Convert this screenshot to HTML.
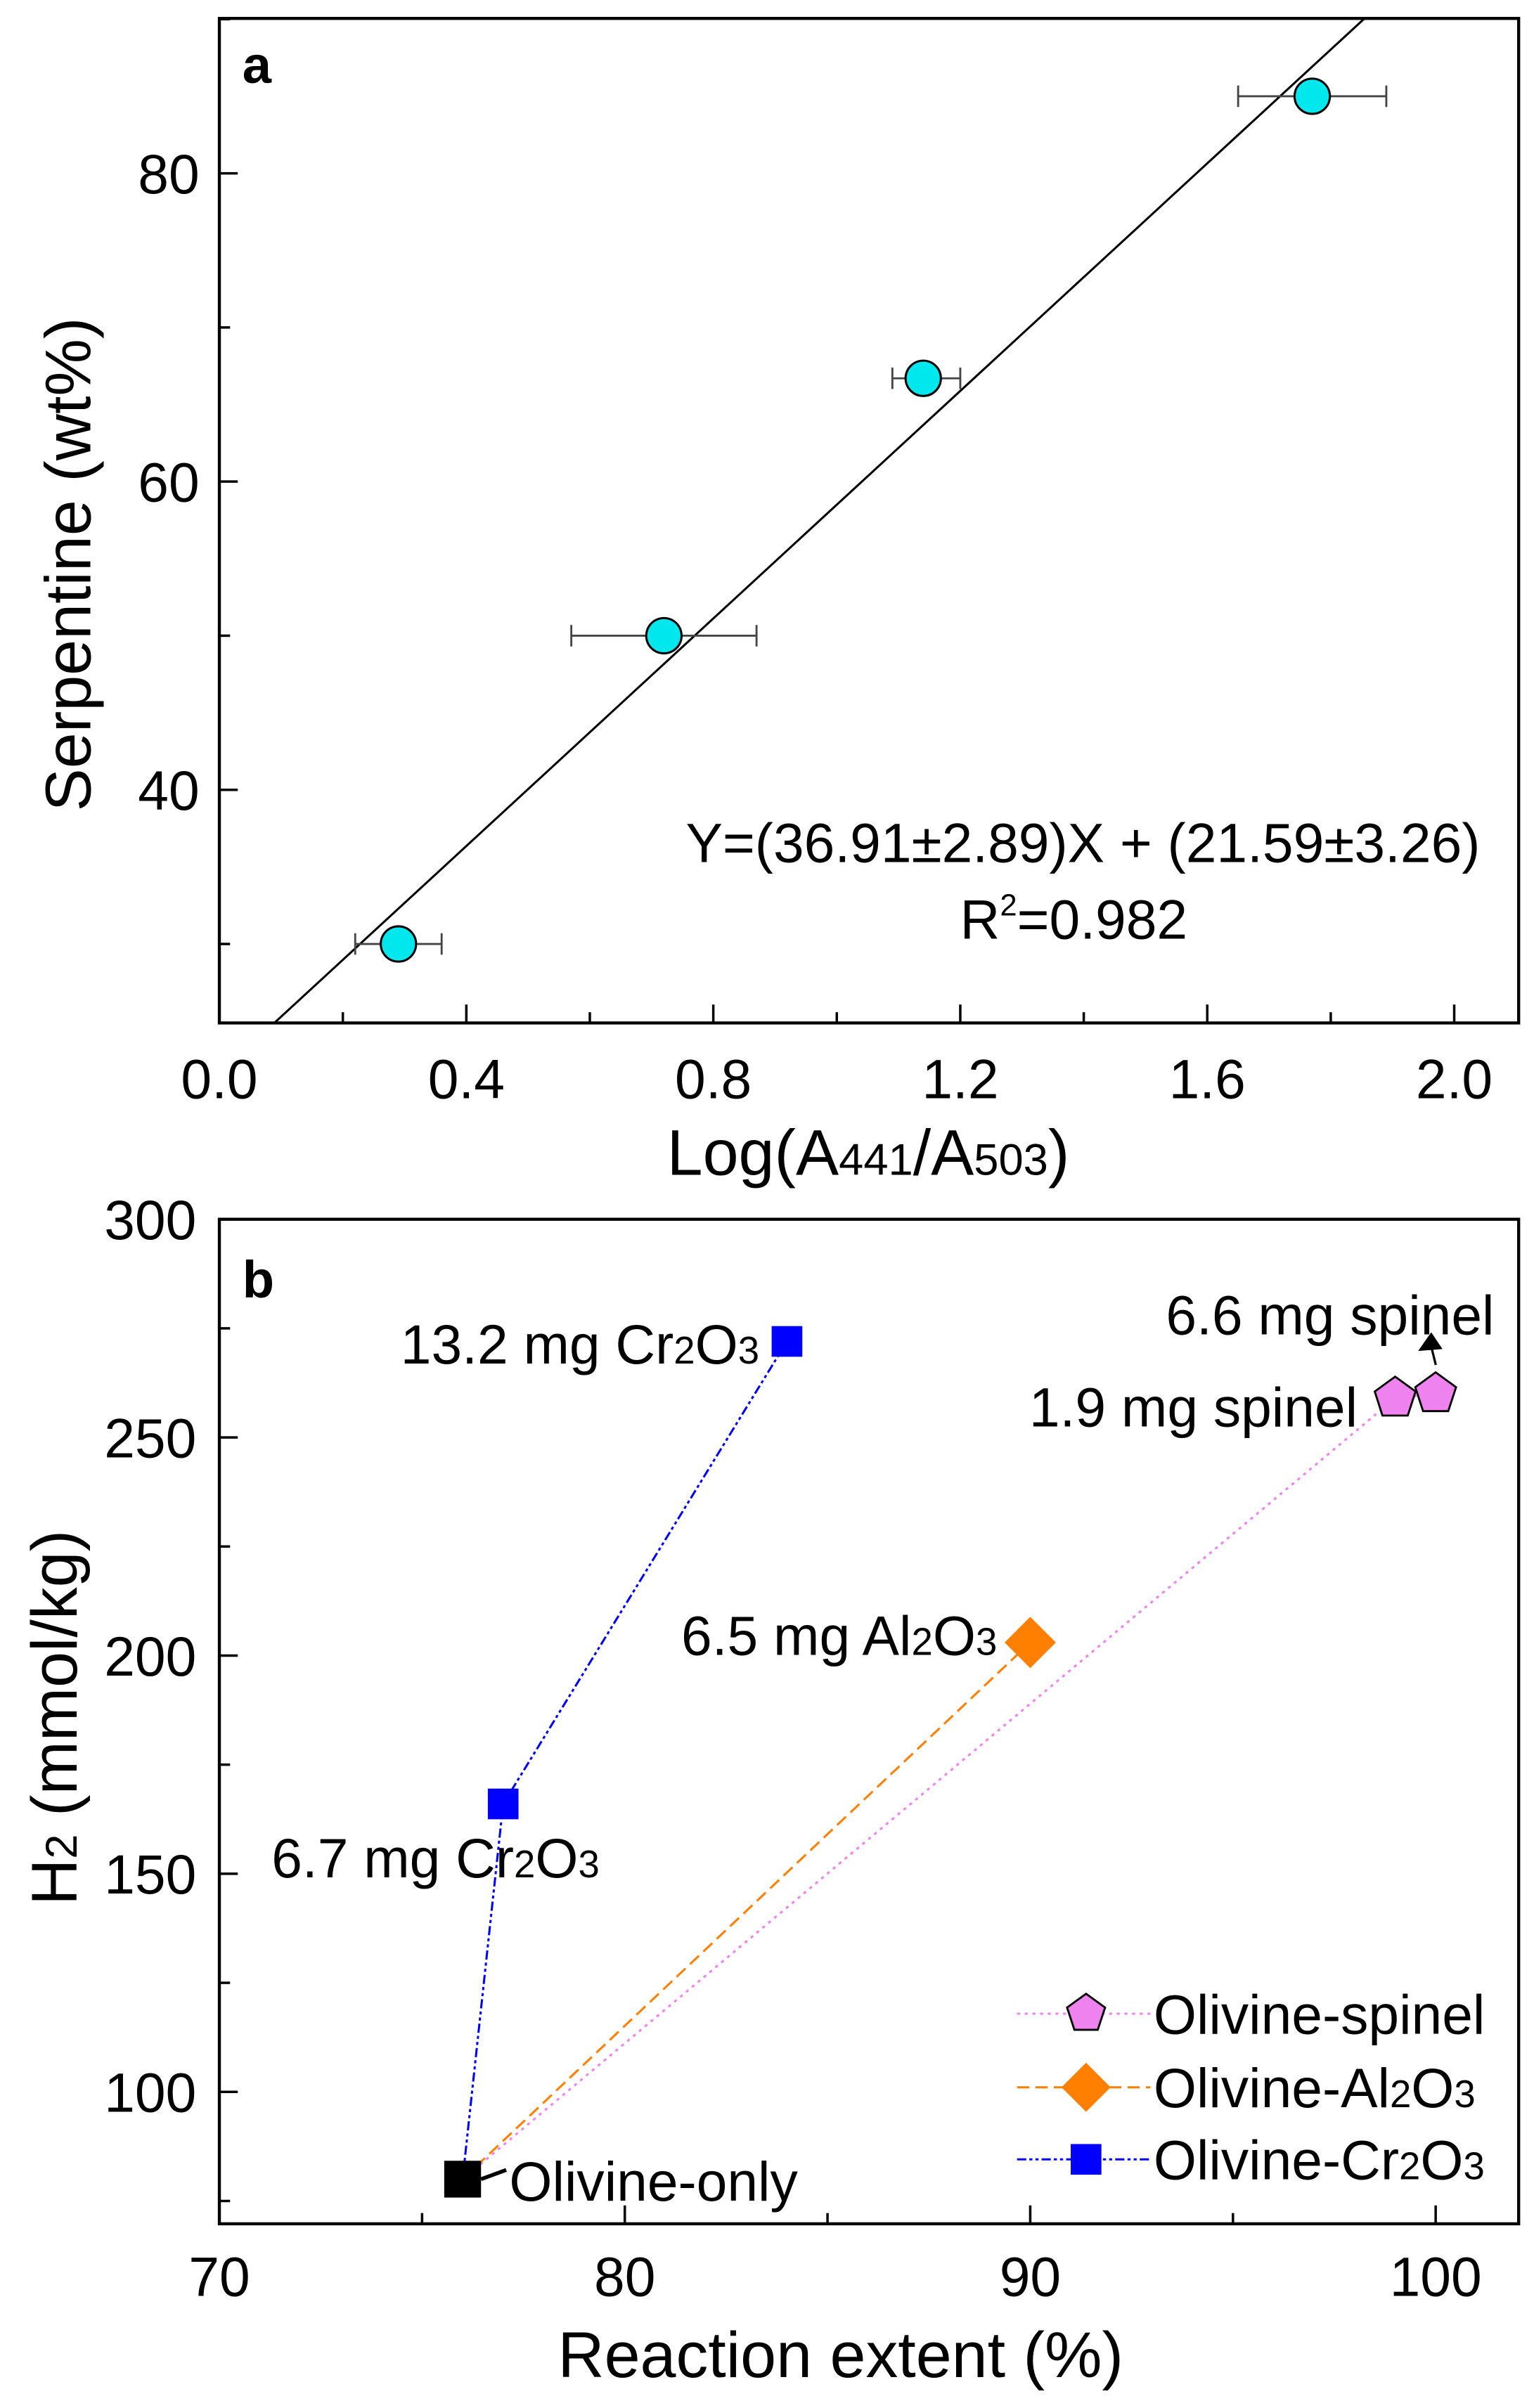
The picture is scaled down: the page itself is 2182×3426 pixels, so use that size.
<!DOCTYPE html>
<html><head><meta charset="utf-8"><style>
html,body{margin:0;padding:0;background:#fff}
svg{display:block;font-family:"Liberation Sans",Arial,sans-serif}
</style></head><body>
<svg id="fig" width="2182" height="3426" viewBox="0 0 1000 1570.1" xmlns="http://www.w3.org/2000/svg"></svg>
<script>
// Panel a data
const aX = [0.29, 0.72, 1.14, 1.77];
const aY = [30, 50, 66.7, 85];
const aErrLo = [0.22, 0.57, 1.09, 1.65];
const aErrHi = [0.36, 0.87, 1.20, 1.89];
const aSlope = 36.91, aIntercept = 21.59;
const aXTicks = [0.0, 0.4, 0.8, 1.2, 1.6, 2.0];
const aXTickLabels = ["0.0","0.4","0.8","1.2","1.6","2.0"];
const aYTicks = [40, 60, 80];
const aYTickLabels = ["40","60","80"];
// Panel b data
const bOnlyX = [76], bOnlyY = [80];
const bCrX = [76, 77, 84], bCrY = [80, 166, 272];
const bAlX = [76, 90], bAlY = [80, 203];
const bSpX = [76, 99, 100], bSpY = [80, 259, 260];
const bXTicks = [70, 80, 90, 100];
const bXTickLabels = ["70","80","90","100"];
const bYTicks = [100, 150, 200, 250, 300];
const bYTickLabels = ["100","150","200","250","300"];

const NS = "http://www.w3.org/2000/svg";
const svg = document.getElementById('fig');
function mk(tag, attrs, parent){const e=document.createElementNS(NS,tag);for(const k in attrs)e.setAttribute(k,attrs[k]);(parent||svg).appendChild(e);return e;}

// ---------- Panel a ----------
const A = {l:143,r:990,t:12,b:667};
const ax = v => 143 + v*402.5;
const ay = v => 113 + (80 - v)*(201/20);
const ga = mk('g',{});


const clipA = mk('clipPath',{id:'ca'},ga); mk('rect',{x:A.l,y:A.t,width:A.r-A.l,height:A.b-A.t},clipA);
const x0 = (24.8 - aIntercept)/aSlope, x1 = (90.1 - aIntercept)/aSlope;
const fl = mk('line',{x1:ax(x0),y1:ay(aSlope*x0+aIntercept),x2:ax(x1),y2:ay(aSlope*x1+aIntercept),stroke:'#000','stroke-width':1.4,'clip-path':'url(#ca)'},ga);


for(let i=0;i<aX.length;i++){
  const g = mk('g',{},ga);
  
  
  const y=ay(aY[i]);
  mk('line',{x1:ax(aErrLo[i]),x2:ax(aErrHi[i]),y1:y,y2:y,stroke:'#444','stroke-width':1.3},g);
  mk('line',{x1:ax(aErrLo[i]),x2:ax(aErrLo[i]),y1:y-7,y2:y+7,stroke:'#444','stroke-width':1.3},g);
  mk('line',{x1:ax(aErrHi[i]),x2:ax(aErrHi[i]),y1:y-7,y2:y+7,stroke:'#444','stroke-width':1.3},g);
  mk('circle',{cx:ax(aX[i]),cy:y,r:11.5,fill:'#00e8ee',stroke:'#000','stroke-width':1.4},g);
}
const fa = mk('rect',{x:A.l,y:A.t,width:A.r-A.l,height:A.b-A.t,fill:'none',stroke:'#000','stroke-width':2},ga);


for(let v=0.2; v<2.1; v+=0.2){
  const major = Math.abs((v/0.4)-Math.round(v/0.4))<1e-6;
  mk('line',{x1:ax(v),x2:ax(v),y1:A.b,y2:A.b-(major?12:7),stroke:'#000','stroke-width':1.6},ga);
}
for(let v=30; v<=90; v+=10){
  const major = v%20===0;
  mk('line',{x1:A.l,x2:A.l+(major?12:7),y1:ay(v),y2:ay(v),stroke:'#000','stroke-width':1.6},ga);
}
aXTicks.forEach((v,i)=>{const t=mk('text',{x:ax(v),y:716,'font-size':36,'text-anchor':'middle'},ga);t.textContent=aXTickLabels[i];

});
aYTicks.forEach((v,i)=>{const t=mk('text',{x:130,y:ay(v)+13,'font-size':36,'text-anchor':'end'},ga);t.textContent=aYTickLabels[i];

});
</script>
<script>
(function(){
const svg=document.getElementById('fig');
function addText(html, attrs, name){
  const t=document.createElementNS("http://www.w3.org/2000/svg",'text');
  for(const k in attrs)t.setAttribute(k,attrs[k]);
  t.innerHTML=html;
  
  
  svg.appendChild(t);return t;
}
addText('a',{x:158,y:54,'font-size':34,'font-weight':'bold'},'panel-label-a');
addText('Serpentine (wt%)',{x:0,y:0,'font-size':42,'text-anchor':'middle',transform:'translate(59,368) rotate(-90)'},'y-axis-title-a');
addText('Log(A<tspan font-size="29">441</tspan>/A<tspan font-size="29">503</tspan>)',{x:566,y:766,'font-size':42,'text-anchor':'middle'},'x-axis-title-a');
addText('Y=(36.91±2.89)X + (21.59±3.26)',{x:706,y:562,'font-size':36,'text-anchor':'middle'},'fit-equation');
addText('R<tspan font-size="20" dy="-15">2</tspan><tspan dy="15">=0.982</tspan>',{x:700,y:612,'font-size':36,'text-anchor':'middle'},'r-squared');
})();
</script>
<script>
// ---------- Panel b ----------
const B = {l:143,r:990,t:795,b:1450};
const bx = v => 143 + (v-70)*26.43;
const by = v => 795 + (300 - v)*(142.25/50);
const gb = document.createElementNS(NS,'g'); svg.appendChild(gb);


function path(xs, ys){return xs.map((x,i)=>(i?'L':'M')+bx(x)+' '+by(ys[i])).join(' ');}
const lnSp = mk('path',{d:path(bSpX,bSpY),fill:'none',stroke:'#ee82ee','stroke-width':1.4,'stroke-dasharray':'2 3'},gb);


const lnAl = mk('path',{d:path(bAlX,bAlY),fill:'none',stroke:'#ff8000','stroke-width':1.4,'stroke-dasharray':'8 4'},gb);


const lnCr = mk('path',{d:path(bCrX,bCrY),fill:'none',stroke:'#0000ff','stroke-width':1.4,'stroke-dasharray':'6 2 2 2 2 2'},gb);


function pent(cx,cy,r){let p=[];for(let k=0;k<5;k++){const a=-Math.PI/2+k*2*Math.PI/5;p.push((cx+r*Math.cos(a)).toFixed(1)+','+(cy+r*Math.sin(a)).toFixed(1));}return p.join(' ');}
for(let i=1;i<bSpX.length;i++){
  const m=mk('polygon',{points:pent(bx(bSpX[i]),by(bSpY[i]),14),fill:'#ee82ee',stroke:'#000','stroke-width':1.3},gb);
  
  
}
for(let i=1;i<bAlX.length;i++){
  const cx=bx(bAlX[i]),cy=by(bAlY[i]),r=16;
  const m=mk('polygon',{points:`${cx},${cy-r} ${cx+r},${cy} ${cx},${cy+r} ${cx-r},${cy}`,fill:'#ff8000',stroke:'#ff8000','stroke-width':1},gb);
  
  
}
for(let i=1;i<bCrX.length;i++){
  const m=mk('rect',{x:bx(bCrX[i])-10,y:by(bCrY[i])-10,width:20,height:20,fill:'#0000ff'},gb);
  
  
}
{
  const m=mk('rect',{x:bx(bOnlyX[0])-12,y:by(bOnlyY[0])-12,width:24,height:24,fill:'#000'},gb);
  
  
}
const fb = mk('rect',{x:B.l,y:B.t,width:B.r-B.l,height:B.b-B.t,fill:'none',stroke:'#000','stroke-width':2},gb);


for(let v=75; v<=100; v+=5){
  const major=v%10===0;
  mk('line',{x1:bx(v),x2:bx(v),y1:B.b,y2:B.b-(major?12:7),stroke:'#000','stroke-width':1.6},gb);
}
for(let v=75; v<300; v+=25){
  const major=v%50===0;
  mk('line',{x1:B.l,x2:B.l+(major?12:7),y1:by(v),y2:by(v),stroke:'#000','stroke-width':1.6},gb);
}
bXTicks.forEach((v,i)=>{const t=mk('text',{x:bx(v),y:1497,'font-size':36,'text-anchor':'middle'},gb);t.textContent=bXTickLabels[i];

});
bYTicks.forEach((v,i)=>{const t=mk('text',{x:128,y:by(v)+13,'font-size':36,'text-anchor':'end'},gb);t.textContent=bYTickLabels[i];

});
const ar1=mk('path',{d:`M${bx(76)+12} ${by(80)} L330 ${by(80)-6}`,stroke:'#000','stroke-width':2.5,fill:'none'},gb);


const ar2=mk('path',{d:`M936 890 L932 874 M926 880 L933 870 L939 879 Z`,stroke:'#000','stroke-width':1.5,fill:'#000'},gb);


const leg=[['Olivine-spinel','#ee82ee','2 3','pent',1313],['Olivine-Al<tspan font-size="25">2</tspan>O<tspan font-size="25">3</tspan>','#ff8000','8 4','dia',1361],['Olivine-Cr<tspan font-size="25">2</tspan>O<tspan font-size="25">3</tspan>','#0000ff','6 2 2 2 2 2','sq',1408]];
leg.forEach(L=>{
  const g=mk('g',{},gb);
  
  
  mk('line',{x1:663,x2:750,y1:L[4],y2:L[4],stroke:L[1],'stroke-width':1.4,'stroke-dasharray':L[2]},g);
  if(L[3]==='pent')mk('polygon',{points:pent(708,L[4],13),fill:'#ee82ee',stroke:'#000','stroke-width':1.3},g);
  if(L[3]==='dia')mk('polygon',{points:`708,${L[4]-16} 724,${L[4]} 708,${L[4]+16} 692,${L[4]}`,fill:'#ff8000'},g);
  if(L[3]==='sq')mk('rect',{x:698,y:L[4]-10,width:20,height:20,fill:'#0000ff'},g);
  const t=mk('text',{x:752,y:L[4]+13,'font-size':36},g);t.innerHTML=L[0];
});
const sub = s=>`<tspan font-size="25">${s}</tspan>`;
[['b',{x:158,y:846,'font-size':34,'font-weight':'bold'},'panel-label-b'],
 ['13.2 mg Cr'+sub(2)+'O'+sub(3),{x:495,y:889,'font-size':36,'text-anchor':'end'},'label-13-2-cr2o3'],
 ['6.6 mg spinel',{x:760,y:870,'font-size':36},'label-6-6-spinel'],
 ['1.9 mg spinel',{x:885,y:930,'font-size':36,'text-anchor':'end'},'label-1-9-spinel'],
 ['6.5 mg Al'+sub(2)+'O'+sub(3),{x:650,y:1079,'font-size':36,'text-anchor':'end'},'label-6-5-al2o3'],
 ['6.7 mg Cr'+sub(2)+'O'+sub(3),{x:177,y:1224,'font-size':36},'label-6-7-cr2o3'],
 ['Olivine-only',{x:332,y:1435,'font-size':36},'label-olivine-only'],
 ['Reaction extent (%)',{x:548,y:1550,'font-size':42,'text-anchor':'middle'},'x-axis-title-b'],
 ['H<tspan font-size="29">2</tspan> (mmol/kg)',{x:0,y:0,'font-size':42,'text-anchor':'middle',transform:'translate(50,1120) rotate(-90)'},'y-axis-title-b']
].forEach(L=>{const t=mk('text',L[1],gb);t.innerHTML=L[0];

});
</script>
</body></html>
